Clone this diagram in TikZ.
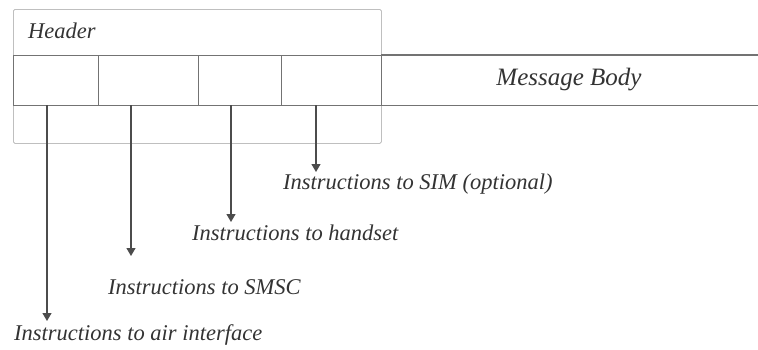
\documentclass[tikz,border=0pt]{standalone}
\usepackage{fontspec}
\setmainfont{Liberation Serif}
\usetikzlibrary{arrows.meta}
\begin{document}
\begin{tikzpicture}[x=1pt,y=-1pt,
  hdrbox/.style={draw=black!25, line width=0.8pt, rounded corners=1.5pt, inner sep=0pt, anchor=north west},
  cell/.style={draw=black!55, line width=1.3pt, inner sep=0pt, minimum height=50pt, anchor=north west},
  rowline/.style={draw=black!55, line width=1.3pt},
  arr/.style={draw=black!70, line width=1.2pt, -{Triangle[length=8pt,width=9pt]}},
  lbl/.style={font=\fontsize{22.5}{24}\selectfont\itshape, text=black!80, inner sep=0pt, anchor=west}]
\useasboundingbox (0,0) rectangle (758,349);

% header frame
\node[hdrbox, minimum width=368pt, minimum height=134pt] (frame) at (13,9) {};
\node[lbl] (hdrtxt) at (28,31) {Header};

% header fields and message body
\node[cell, minimum width=85pt]  (f1) at (13,55) {};
\node[cell, minimum width=100pt] (f2) at (98,55) {};
\node[cell, minimum width=83pt]  (f3) at (198,55) {};
\node[cell, minimum width=100pt] (f4) at (281,55) {};
\node[inner sep=0pt, minimum width=377pt, minimum height=50pt, anchor=north west] (body) at (381,55) {};
\draw[rowline] (body.north west) -- (body.north east);
\draw[rowline] (body.south west) -- (body.south east);
\node[lbl, anchor=center, font=\fontsize{25}{27}\selectfont\itshape] (bodytxt) at (569,80) {Message Body};

% labels
\node[lbl] (l1) at (14,335) {Instructions to air interface};
\node[lbl] (l2) at (108,287) {Instructions to SMSC};
\node[lbl] (l3) at (192,233) {Instructions to handset};
\node[lbl] (l4) at (283,184) {Instructions to SIM (optional)};

% arrow start and end points
\coordinate (s1) at (47,105);  \coordinate (t1) at (47,321);
\coordinate (s2) at (131,105); \coordinate (t2) at (131,256);
\coordinate (s3) at (231,105); \coordinate (t3) at (231,222);
\coordinate (s4) at (316,105); \coordinate (t4) at (316,172);
\draw[arr] (s1) -- (t1);
\draw[arr] (s2) -- (t2);
\draw[arr] (s3) -- (t3);
\draw[arr] (s4) -- (t4);
\end{tikzpicture}
\end{document}
